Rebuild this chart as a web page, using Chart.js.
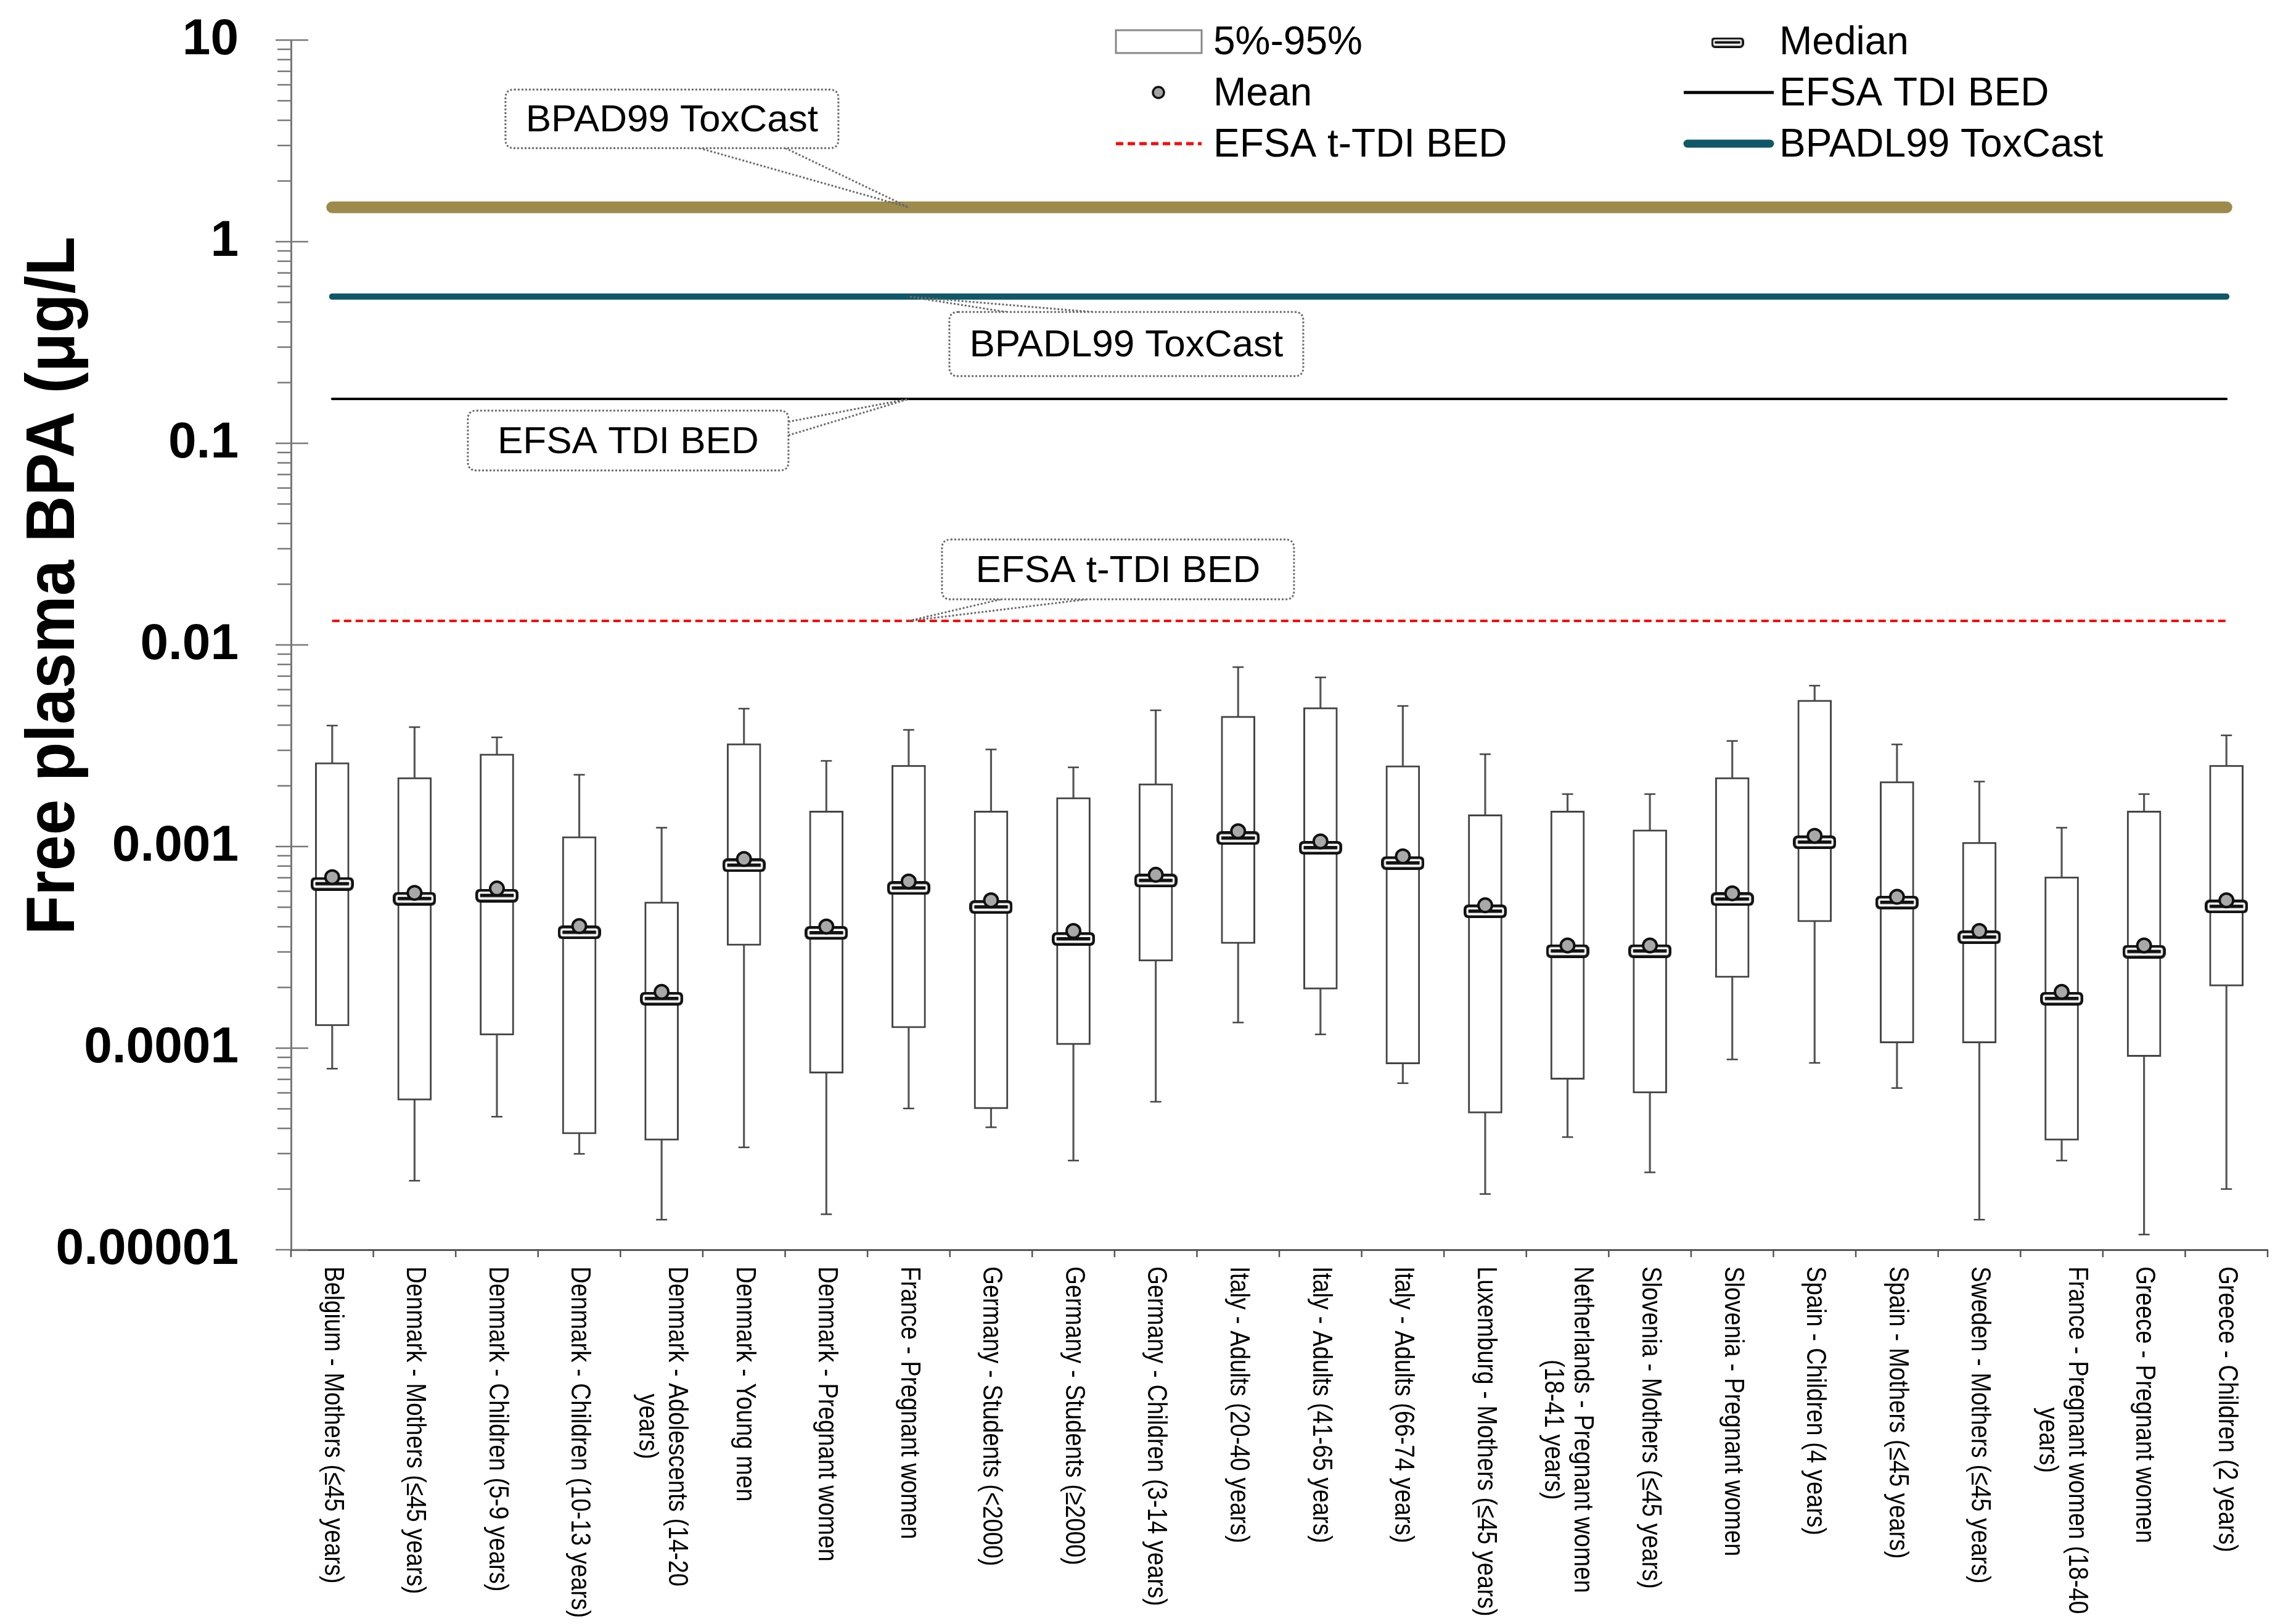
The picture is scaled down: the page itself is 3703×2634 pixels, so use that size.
<!DOCTYPE html>
<html><head><meta charset="utf-8">
<script src="https://cdn.jsdelivr.net/npm/chart.js@4/dist/chart.umd.min.js"></script>
<style>html,body{margin:0;padding:0;background:#fff;}canvas{display:block;}</style>
</head><body>
<canvas id="c" width="3703" height="2634" style="width:3703px;height:2634px"></canvas>
<script>
// ---------------- DATA ----------------
const categories = [
  'Belgium - Mothers (≤45 years)',
  'Denmark - Mothers (≤45 years)',
  'Denmark - Children (5-9 years)',
  'Denmark - Children (10-13 years)',
  'Denmark - Adolescents (14-20\nyears)',
  'Denmark - Young men',
  'Denmark - Pregnant women',
  'France - Pregnant women',
  'Germany - Students (<2000)',
  'Germany - Students (≥2000)',
  'Germany - Children (3-14 years)',
  'Italy - Adults (20-40 years)',
  'Italy - Adults (41-65 years)',
  'Italy - Adults (66-74 years)',
  'Luxemburg - Mothers (≤45 years)',
  'Netherlands - Pregnant women\n(18-41 years)',
  'Slovenia - Mothers (≤45 years)',
  'Slovenia - Pregnant women',
  'Spain - Children (4 years)',
  'Spain - Mothers (≤45 years)',
  'Sweden - Mothers (≤45 years)',
  'France - Pregnant women (18-40\nyears)',
  'Greece - Pregnant women',
  'Greece - Children (2 years)'
];
const whiskerHigh = [0.00398, 0.00391, 0.00348, 0.00227, 0.00124, 0.00483, 0.00266, 0.00379, 0.00303, 0.00247, 0.00474, 0.00776, 0.00690, 0.00498, 0.00287, 0.00182, 0.00182, 0.00334, 0.00628, 0.00321, 0.00210, 0.00124, 0.00182, 0.00356];
const p95 = [0.00261, 0.00220, 0.00288, 0.00112, 0.000531, 0.00324, 0.00150, 0.00253, 0.00150, 0.00175, 0.00205, 0.00443, 0.00489, 0.00252, 0.00144, 0.00150, 0.00121, 0.00220, 0.00532, 0.00210, 0.00105, 0.000708, 0.00150, 0.00253];
const medians = [0.000653, 0.000551, 0.000571, 0.000375, 0.000176, 0.000807, 0.000373, 0.000622, 0.000501, 0.000348, 0.000678, 0.00110, 0.000986, 0.000828, 0.000477, 0.000303, 0.000303, 0.000548, 0.00105, 0.000528, 0.000355, 0.000176, 0.000301, 0.000504];
const means = [0.000705, 0.000589, 0.000619, 0.000403, 0.000190, 0.000867, 0.000401, 0.000671, 0.000541, 0.000381, 0.000724, 0.00119, 0.00106, 0.000894, 0.000511, 0.000323, 0.000323, 0.000586, 0.00113, 0.000563, 0.000381, 0.000190, 0.000323, 0.000541];
const p05 = [0.000129, 0.0000552, 0.000116, 0.0000375, 0.0000349, 0.000323, 0.0000751, 0.000126, 0.0000500, 0.000104, 0.000270, 0.000330, 0.000196, 0.0000834, 0.0000476, 0.0000700, 0.0000598, 0.000224, 0.000423, 0.000106, 0.000106, 0.0000349, 0.0000908, 0.000203];
const whiskerLow = [0.0000791, 0.0000220, 0.0000457, 0.0000299, 0.0000141, 0.0000322, 0.0000150, 0.0000502, 0.0000405, 0.0000277, 0.0000542, 0.000134, 0.000117, 0.0000670, 0.0000189, 0.0000362, 0.0000242, 0.0000879, 0.0000845, 0.0000634, 0.0000141, 0.0000277, 0.0000119, 0.0000200];

const bpad99 = 1.48;     // BPAD99 ToxCast
const bpadl99 = 0.534;   // BPADL99 ToxCast
const efsaTDI = 0.166;   // EFSA TDI BED
const efsaTTDI = 0.01315;// EFSA t-TDI BED

const yTickLabels = ['0.00001', '0.0001', '0.001', '0.01', '0.1', '1', '10'];
const yTitle = 'Free plasma BPA (μg/L';
const calloutCategory = 7;

// ---------------- STYLE ----------------
const FONT = "'Liberation Sans', Arial, sans-serif";
const GOLD = '#9D8B4B', TEAL = '#0E5868';

function rrect(g, x, y, w, h, r) {
  g.beginPath();
  g.moveTo(x + r, y); g.lineTo(x + w - r, y); g.quadraticCurveTo(x + w, y, x + w, y + r);
  g.lineTo(x + w, y + h - r); g.quadraticCurveTo(x + w, y + h, x + w - r, y + h);
  g.lineTo(x + r, y + h); g.quadraticCurveTo(x, y + h, x, y + h - r);
  g.lineTo(x, y + r); g.quadraticCurveTo(x, y, x + r, y); g.closePath();
}
function makeMedianIcon(s) {
  const w = Math.round(70 * s), h = Math.round(22 * s);
  const c = document.createElement('canvas'); c.width = w; c.height = h;
  const g = c.getContext('2d');
  const lw = 4.5 * s;
  g.fillStyle = '#fff'; g.strokeStyle = '#111'; g.lineWidth = lw;
  rrect(g, lw / 2, lw / 2, w - lw, h - lw, 6 * s); g.fill(); g.stroke();
  g.fillStyle = '#111'; g.fillRect(lw * 1.7, h / 2 - 3 * s, w - lw * 3.4, 5.5 * s);
  return c;
}
const medianIcon = makeMedianIcon(1);
const medianIconSmall = makeMedianIcon(0.75);

const yTickValues = [];
for (let e = -5; e <= 1; e++) {
  yTickValues.push(Math.pow(10, e));
  if (e < 1) for (let m = 2; m <= 9; m++) yTickValues.push(m * Math.pow(10, e));
}
const isDecade = v => Math.abs(Math.log10(v) - Math.round(Math.log10(v))) < 1e-6;

const n = categories.length;
const refLine = (label, v, color, width, dash) => ({
  type: 'line', label, data: [{x: categories[0], y: v}, {x: categories[n - 1], y: v}],
  borderColor: color, borderWidth: width, borderCapStyle: dash ? 'butt' : 'round',
  borderDash: dash || [], pointRadius: 0, fill: false, order: 8
});

const annotations = [
  {text: 'BPAD99 ToxCast', value: bpad99, dx: -654, dy: -191, w: 540, h: 95, from: [[-339, -96], [-200, -96]]},
  {text: 'BPADL99 ToxCast', value: bpadl99, dx: 66, dy: 25, w: 574, h: 104, from: [[159, 25], [298, 25]]},
  {text: 'EFSA TDI BED', value: efsaTDI, dx: -715, dy: 19, w: 520, h: 97, from: [[-195, 37], [-195, 59]]},
  {text: 'EFSA t-TDI BED', value: efsaTTDI, dx: 54, dy: -132, w: 571, h: 97, from: [[149, -35], [288, -35]]}
];

const decorPlugin = {
  id: 'decor',
  afterDatasetsDraw(chart) {
    const ctx = chart.ctx, xs = chart.scales.x, ys = chart.scales.y;
    ctx.save();
    ctx.strokeStyle = '#444'; ctx.lineWidth = 2.5;
    for (let i = 0; i < n; i++) {
      const x = xs.getPixelForValue(i);
      [whiskerLow[i], whiskerHigh[i]].forEach(v => {
        const y = ys.getPixelForValue(v);
        ctx.beginPath(); ctx.moveTo(x - 9, y); ctx.lineTo(x + 9, y); ctx.stroke();
      });
    }
    ctx.restore();
  },
  afterDraw(chart) {
    const ctx = chart.ctx, xs = chart.scales.x, ys = chart.scales.y, ca = chart.chartArea;
    ctx.save();
    // y tick marks
    ctx.strokeStyle = '#777'; ctx.lineWidth = 2.5;
    ys.ticks.forEach(t => {
      const y = ys.getPixelForValue(t.value);
      ctx.beginPath();
      if (isDecade(t.value)) { ctx.moveTo(ca.left - 25, y); ctx.lineTo(ca.left + 28, y); }
      else { ctx.moveTo(ca.left - 22, y); ctx.lineTo(ca.left, y); }
      ctx.stroke();
    });
    // x tick marks at category boundaries
    ctx.strokeStyle = '#555';
    const half = (xs.getPixelForValue(1) - xs.getPixelForValue(0)) / 2;
    for (let i = 0; i <= n; i++) {
      const x = xs.getPixelForValue(0) - half + i * 2 * half;
      ctx.beginPath(); ctx.moveTo(x, ca.bottom); ctx.lineTo(x, ca.bottom + 12); ctx.stroke();
    }
    // x labels (rotated clockwise, reading top to bottom)
    ctx.fillStyle = '#000'; ctx.font = `44px ${FONT}`; ctx.textBaseline = 'middle'; ctx.textAlign = 'left';
    categories.forEach((lab, i) => {
      const lines = lab.split('\n');
      const widths = lines.map(l => ctx.measureText(l).width);
      const maxW = Math.max(...widths);
      ctx.save();
      ctx.translate(xs.getPixelForValue(i), ca.bottom + 27);
      ctx.rotate(Math.PI / 2);
      ctx.scale(0.87, 1);
      lines.forEach((l, j) => {
        const off = ((lines.length - 1) / 2 - j) * 48;
        ctx.fillText(l, (maxW - widths[j]) / 2, -off);
      });
      ctx.restore();
    });
    // y title
    ctx.save();
    ctx.translate(120, 950); ctx.rotate(-Math.PI / 2); ctx.scale(0.93, 1);
    ctx.font = `bold 112px ${FONT}`; ctx.textAlign = 'center'; ctx.textBaseline = 'alphabetic';
    ctx.fillText(yTitle, 0, 0);
    ctx.restore();
    // callouts
    const ax = xs.getPixelForValue(calloutCategory);
    annotations.forEach(a => {
      const ay = ys.getPixelForValue(a.value);
      ctx.setLineDash([3, 3]); ctx.strokeStyle = '#6a6a6a'; ctx.lineWidth = 3;
      a.from.forEach(p => {
        ctx.beginPath(); ctx.moveTo(ax + p[0], ay + p[1]); ctx.lineTo(ax, ay); ctx.stroke();
      });
      ctx.fillStyle = '#fff';
      rrect(ctx, ax + a.dx, ay + a.dy, a.w, a.h, 14); ctx.fill(); ctx.stroke();
      ctx.setLineDash([]);
      ctx.fillStyle = '#000'; ctx.font = `62px ${FONT}`; ctx.textAlign = 'center'; ctx.textBaseline = 'middle';
      ctx.fillText(a.text, ax + a.dx + a.w / 2, ay + a.dy + a.h / 2 + 3);
    });
    // legend
    const col1 = {i0: 1810, i1: 1949, t: 1968}, col2 = {i0: 2731, i1: 2877, t: 2886};
    const rowsC = [66, 150, 233], rowsB = [88, 171, 254];
    ctx.font = `64px ${FONT}`; ctx.textAlign = 'left'; ctx.textBaseline = 'alphabetic'; ctx.fillStyle = '#000';
    const txt = (s, col, r) => { ctx.fillStyle = '#000'; ctx.fillText(s, col.t, rowsB[r]); };
    ctx.fillStyle = '#fff'; ctx.strokeStyle = '#888'; ctx.lineWidth = 3;
    ctx.fillRect(col1.i0, 49, col1.i1 - col1.i0, 37); ctx.strokeRect(col1.i0, 49, col1.i1 - col1.i0, 37);
    txt('5%-95%', col1, 0);
    ctx.drawImage(medianIconSmall, 2802 - medianIconSmall.width / 2, rowsC[0] + 3 - medianIconSmall.height / 2);
    txt('Median', col2, 0);
    ctx.beginPath(); ctx.arc(1879, rowsC[1], 9, 0, Math.PI * 2);
    ctx.fillStyle = '#a3a3a3'; ctx.fill(); ctx.strokeStyle = '#111'; ctx.lineWidth = 3.5; ctx.stroke();
    txt('Mean', col1, 1);
    ctx.beginPath(); ctx.moveTo(col2.i0, rowsC[1]); ctx.lineTo(col2.i1, rowsC[1]);
    ctx.strokeStyle = '#000'; ctx.lineWidth = 5; ctx.stroke();
    txt('EFSA TDI BED', col2, 1);
    ctx.beginPath(); ctx.setLineDash([12, 7]); ctx.moveTo(col1.i0, rowsC[2]); ctx.lineTo(col1.i1, rowsC[2]);
    ctx.strokeStyle = '#ff0000'; ctx.lineWidth = 5; ctx.stroke(); ctx.setLineDash([]);
    txt('EFSA t-TDI BED', col1, 2);
    ctx.beginPath(); ctx.lineCap = 'round'; ctx.moveTo(col2.i0 + 6, rowsC[2]); ctx.lineTo(col2.i1 - 6, rowsC[2]);
    ctx.strokeStyle = TEAL; ctx.lineWidth = 13; ctx.stroke(); ctx.lineCap = 'butt';
    txt('BPADL99 ToxCast', col2, 2);
    ctx.restore();
  }
};

Chart.defaults.font.family = FONT;

new Chart(document.getElementById('c'), {
  type: 'bar',
  data: {
    labels: categories,
    datasets: [
      {type: 'bar', label: 'whiskers', data: categories.map((_, i) => [whiskerLow[i], whiskerHigh[i]]),
       backgroundColor: '#555', borderWidth: 0, barThickness: 2.5, grouped: false, order: 10},
      {type: 'bar', label: '5%-95%', data: categories.map((_, i) => [p05[i], p95[i]]),
       backgroundColor: '#fff', borderColor: '#444', borderWidth: 3, borderSkipped: false,
       barThickness: 55, grouped: false, order: 9},
      refLine('BPAD99 ToxCast', bpad99, GOLD, 19),
      refLine('BPADL99 ToxCast', bpadl99, TEAL, 10),
      refLine('EFSA TDI BED', efsaTDI, '#000', 4),
      refLine('EFSA t-TDI BED', efsaTTDI, '#ff0000', 4, [12, 7]),
      {type: 'line', label: 'Median', data: medians, showLine: false, pointStyle: medianIcon,
       pointRadius: 10, order: 2},
      {type: 'line', label: 'Mean', data: means, showLine: false, pointStyle: 'circle', pointRadius: 11,
       pointBackgroundColor: '#a8a8a8', pointBorderColor: '#111', pointBorderWidth: 4, order: 1}
    ]
  },
  options: {
    responsive: false, devicePixelRatio: 1, animation: false, events: [],
    layout: {padding: {top: 65, right: 25, left: 0, bottom: 0}},
    plugins: {legend: {display: false}, tooltip: {enabled: false}},
    scales: {
      x: {
        type: 'category', offset: true,
        grid: {display: false, drawTicks: false}, ticks: {display: false},
        border: {display: true, color: '#555', width: 3},
        afterFit: s => { s.height = 2634 - 2027; s.paddingLeft = 0; s.paddingRight = 0; }
      },
      y: {
        type: 'logarithmic', min: 1e-5, max: 10,
        grid: {display: false, drawTicks: false},
        border: {display: true, color: '#777', width: 3},
        afterBuildTicks: s => { s.ticks = yTickValues.map(v => ({value: v, major: isDecade(v)})); },
        ticks: {
          autoSkip: false, padding: 85, color: '#000',
          font: {family: FONT, weight: 'bold', size: 82},
          callback: v => isDecade(v) ? yTickLabels[Math.round(Math.log10(v)) + 5] : ''
        },
        afterFit: s => { s.width = 472; s.paddingTop = 0; s.paddingBottom = 0; }
      }
    }
  },
  plugins: [decorPlugin]
});
</script>
</body></html>
